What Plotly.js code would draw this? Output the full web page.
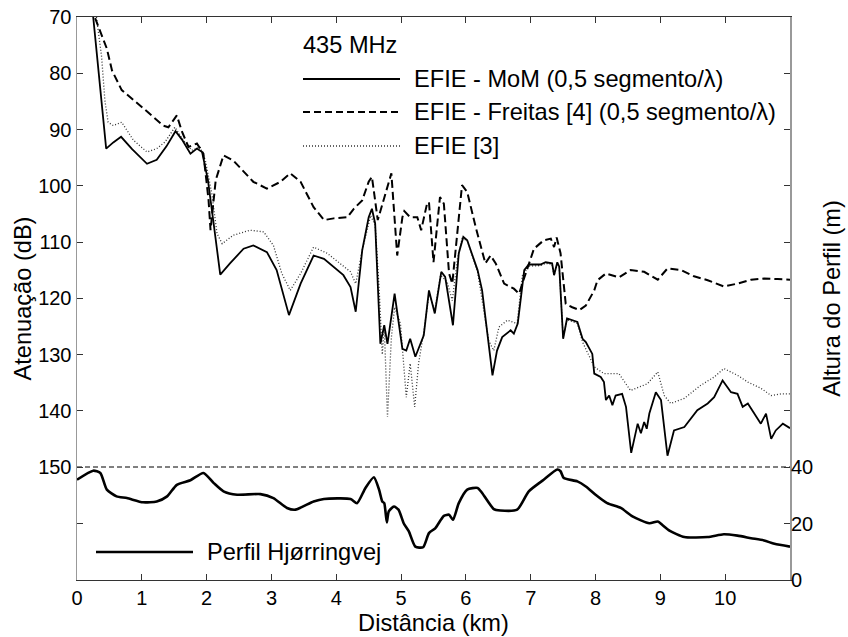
<!DOCTYPE html>
<html>
<head>
<meta charset="utf-8">
<script src="https://cdn.plot.ly/plotly-3.0.1.min.js"></script>
<style>html,body{margin:0;padding:0;background:#fff;}#chart{width:848px;height:637px;}</style>
</head>
<body>
<div id="chart"></div>
<script>
// ---- data (distance in km) ----
var momX = [0.25,0.45,0.56,0.68,0.85,1.08,1.23,1.38,1.52,1.62,1.75,1.85,1.93,2.02,2.10,2.21,2.36,2.57,2.72,2.93,3.08,3.18,3.27,3.45,3.65,3.81,4.04,4.11,4.22,4.30,4.40,4.50,4.55,4.60,4.68,4.74,4.79,4.90,5.02,5.08,5.14,5.22,5.35,5.43,5.52,5.62,5.68,5.80,5.89,5.96,6.02,6.18,6.25,6.41,6.48,6.56,6.69,6.74,6.80,6.90,6.97,7.15,7.23,7.33,7.36,7.41,7.44,7.50,7.56,7.72,7.80,7.85,7.95,7.98,8.08,8.13,8.16,8.21,8.26,8.31,8.41,8.47,8.55,8.65,8.70,8.75,8.79,8.83,8.93,9.01,9.11,9.21,9.37,9.57,9.73,9.83,9.96,10.04,10.09,10.19,10.27,10.35,10.45,10.55,10.63,10.71,10.78,10.89,11.0];
var momY = [70,93.4,92.3,91.3,93.5,96.1,95.4,93.0,90.3,91.8,94.3,93.4,94.0,99,106,115.8,113.8,111.2,110.6,111.8,115,119,123.0,117.4,112.4,113.0,115.3,115.9,118.0,122.4,111.5,105.6,104.1,106.7,128.1,124.8,128.1,119.2,129.0,129.3,127.2,130.4,126.6,118.6,122.7,115.3,116.2,124.8,112.0,109.1,109.7,115.0,118.6,133.7,129.3,126.9,125.7,126.3,124.5,115.0,114.0,114.0,113.6,113.8,115.9,113.6,114.4,127.2,123.6,124.2,127.2,127.8,129.9,133.4,134.0,134.9,138.1,137.3,139.0,137.3,137.0,139.3,147.5,142.3,144.0,142.0,143.2,140.5,136.7,138.1,148.0,143.5,142.9,139.9,138.7,137.6,134.6,135.8,136.7,137.0,139.3,138.7,140.5,142.3,140.5,145.0,143.5,142.3,143.1];

var freitasX = [0.28,0.46,0.54,0.69,1.03,1.33,1.41,1.54,1.62,1.72,1.85,1.95,2.03,2.06,2.14,2.26,2.41,2.72,2.93,3.14,3.29,3.45,3.65,3.81,3.96,4.17,4.27,4.40,4.50,4.55,4.64,4.73,4.85,4.94,5.02,5.05,5.14,5.25,5.31,5.40,5.43,5.50,5.60,5.66,5.74,5.79,5.87,5.94,6.02,6.15,6.30,6.38,6.46,6.59,6.74,6.82,6.87,7.05,7.20,7.31,7.36,7.40,7.46,7.54,7.64,7.75,7.85,7.98,8.03,8.16,8.36,8.54,8.75,8.96,9.11,9.32,9.52,9.73,9.98,10.19,10.40,10.60,10.81,11.0];
var freitasY = [70.2,75.6,79.5,83.0,86.3,89.3,89.6,87.5,90.4,93.1,92.5,94.3,102.6,107.9,99.0,94.6,95.5,99.3,100.5,99.3,97.8,99.3,103.8,106.1,105.8,105.6,104.1,102.6,99.3,98.4,106.1,102.6,97.8,112.4,105.6,104.5,105.6,105.6,107.9,103.2,102.9,113.6,102.0,103.2,115.6,117.4,107.3,99.9,101.1,107.3,113.8,112.4,113.8,117.4,118.3,119.2,117.4,111.2,109.7,109.4,110.9,109.2,112.0,121.0,121.6,122.1,121.3,118.6,116.8,115.6,116.3,115.0,115.3,116.7,114.7,115.0,116.1,116.8,117.9,117.4,116.7,116.5,116.6,116.7];

var efie3X = [0.30,0.38,0.43,0.48,0.56,0.69,0.87,1.08,1.23,1.36,1.51,1.64,1.77,1.90,1.98,2.08,2.16,2.24,2.41,2.67,2.88,3.03,3.16,3.29,3.45,3.65,3.86,4.06,4.22,4.30,4.40,4.53,4.60,4.66,4.71,4.74,4.79,4.85,4.90,4.99,5.05,5.08,5.14,5.21,5.27,5.35,5.43,5.52,5.61,5.71,5.79,5.87,5.94,6.02,6.18,6.35,6.43,6.51,6.64,6.79,6.87,6.97,7.15,7.23,7.33,7.36,7.41,7.44,7.50,7.56,7.72,7.80,7.98,8.13,8.36,8.54,8.80,8.96,9.06,9.16,9.37,9.62,9.83,9.98,10.19,10.35,10.55,10.71,10.86,11.0];
var efie3Y = [70,77.1,84.8,88.7,89.3,88.7,91.9,94.0,93.4,92.2,89.6,91.9,93.7,93.1,95.5,101.4,108.5,110.3,108.8,107.9,108.2,110.6,115.6,118.6,115.6,110.9,112.0,113.8,115.3,117.4,111.5,105.3,107.0,118.0,130.0,125.0,141.1,127.0,121.6,124.5,133.0,137.6,131.6,139.3,131.6,126.0,119.2,122.1,115.9,117.1,120.4,113.0,109.4,109.7,115.3,127.5,129.3,125.1,123.9,124.5,116.0,114.3,114.2,113.8,114.0,115.9,113.8,114.6,127.0,123.8,124.5,127.8,132.2,133.4,133.4,136.4,135.2,133.1,137.3,138.7,137.8,135.5,134.0,132.5,133.7,134.9,136.0,137.3,137.0,137.0];

var perfilX = [0,0.25,0.36,0.46,0.61,0.77,1.02,1.23,1.39,1.54,1.75,1.95,2.11,2.26,2.47,2.83,3.03,3.24,3.37,3.65,3.81,4.22,4.32,4.45,4.58,4.66,4.71,4.74,4.78,4.81,4.89,4.96,5.04,5.12,5.22,5.34,5.43,5.53,5.66,5.74,5.80,5.89,6.02,6.18,6.25,6.43,6.53,6.79,6.97,7.20,7.41,7.46,7.51,7.72,7.85,8.00,8.18,8.39,8.57,8.83,8.96,9.03,9.14,9.37,9.73,9.98,10.19,10.40,10.60,10.76,11.0];
var perfilY = [35.5,38.7,37.9,32.0,29.6,29.0,27.5,27.8,29.6,33.7,35.3,37.9,34.3,31.4,30.2,30.4,29.0,25.5,24.9,27.8,28.7,28.7,27.2,32.6,36.4,32.0,27.8,27.2,20.4,24.3,26.0,24.9,20.1,17.2,11.8,11.6,16.6,18.4,22.7,23.1,21.3,27.2,32.0,32.6,30.8,25.1,24.6,24.9,31.4,35.5,39.1,38.5,36.1,34.9,33.1,30.2,27.2,25.5,22.5,20.1,20.7,19.5,17.5,15.2,15.2,16.2,15.7,14.8,14.0,12.8,11.8];

var refLineX = [0, 11];
var refLineY = [150, 150];

var xTicks = [0,1,2,3,4,5,6,7,8,9,10];
var yTicks = [70,80,90,100,110,120,130,140,150,160];
var yTickText = ['70','80','90','100','110','120','130','140','150',''];
var y2Ticks = [0,20,40];

var seriesNames = ['EFIE - MoM (0,5 segmento/λ)', 'EFIE - Freitas [4] (0,5 segmento/λ)', 'EFIE [3]', 'Perfil Hjørringvej'];
var freqLabel = '435 MHz';

// ---- chart ----
var FONT = 'Liberation Sans, Arial, Helvetica, sans-serif';
var TXT = 23.6;

var traces = [
  {x: refLineX, y: refLineY, mode: 'lines', line: {color: '#000', width: 1, dash: '5px,3px'}, hoverinfo: 'skip', showlegend: false},
  {x: efie3X, y: efie3Y, mode: 'lines', name: seriesNames[2], line: {color: '#333', width: 1.3, dash: '1px,2px'}},
  {x: freitasX, y: freitasY, mode: 'lines', name: seriesNames[1], line: {color: '#000', width: 2, dash: '8px,4px'}},
  {x: momX, y: momY, mode: 'lines', name: seriesNames[0], line: {color: '#000', width: 1.8}},
  {x: perfilX, y: perfilY, yaxis: 'y2', mode: 'lines', name: seriesNames[3], line: {color: '#000', width: 2.6, shape: 'spline', smoothing: 0.6}}
];

function px2paperX(p){ return (p - 77) / 713; }
function px2paperY(p){ return (580 - p) / 563; }

var legendLines = [
  {y: 79, dash: 'solid', w: 1.8, c: '#000'},
  {y: 112, dash: '7px,4px', w: 1.8, c: '#000'},
  {y: 146, dash: '1px,2px', w: 1.3, c: '#333'}
];
var shapes = legendLines.map(function(l){
  return {type: 'line', xref: 'paper', yref: 'paper', x0: px2paperX(303), x1: px2paperX(400), y0: px2paperY(l.y), y1: px2paperY(l.y), line: {color: l.c, width: l.w, dash: l.dash}};
});
shapes.push({type: 'line', xref: 'paper', yref: 'paper', x0: px2paperX(96), x1: px2paperX(193), y0: px2paperY(552), y1: px2paperY(552), line: {color: '#000', width: 2.6}});

var annFont = {family: FONT, size: TXT, color: '#000'};
var annotations = [
  {xref: 'paper', yref: 'paper', x: px2paperX(301), y: px2paperY(45), xanchor: 'left', yanchor: 'middle', text: freqLabel, showarrow: false, font: annFont},
  {xref: 'paper', yref: 'paper', x: px2paperX(412), y: px2paperY(79), xanchor: 'left', yanchor: 'middle', text: seriesNames[0], showarrow: false, font: annFont},
  {xref: 'paper', yref: 'paper', x: px2paperX(412), y: px2paperY(112), xanchor: 'left', yanchor: 'middle', text: seriesNames[1], showarrow: false, font: annFont},
  {xref: 'paper', yref: 'paper', x: px2paperX(412), y: px2paperY(146), xanchor: 'left', yanchor: 'middle', text: seriesNames[2], showarrow: false, font: annFont},
  {xref: 'paper', yref: 'paper', x: px2paperX(205), y: px2paperY(552), xanchor: 'left', yanchor: 'middle', text: seriesNames[3], showarrow: false, font: annFont}
];

var layout = {
  width: 848, height: 637,
  margin: {l: 77, r: 58, t: 17, b: 57, pad: 0},
  paper_bgcolor: '#fff', plot_bgcolor: '#fff',
  font: {family: FONT, size: 20, color: '#000'},
  showlegend: false,
  xaxis: {
    range: [0, 11], tickvals: xTicks, ticks: 'inside', ticklen: 6, tickcolor: '#333', tickwidth: 1,
    showline: true, linecolor: '#333', linewidth: 1, mirror: 'ticks', showgrid: false, zeroline: false,
    tickfont: {family: FONT, size: 20, color: '#000'},
    title: {text: 'Distância (km)', font: {family: FONT, size: TXT, color: '#000'}, standoff: 6}
  },
  yaxis: {
    range: [170.09, 70], tickvals: yTicks, ticktext: yTickText, ticks: 'inside', ticklen: 6, tickcolor: '#333', tickwidth: 1,
    showline: true, linecolor: '#999', linewidth: 1.5, mirror: 'ticks', showgrid: false, zeroline: false,
    tickfont: {family: FONT, size: 20, color: '#000'},
    title: {text: 'Atenuação (dB)', font: {family: FONT, size: TXT, color: '#000'}, standoff: 0}
  },
  yaxis2: {
    overlaying: 'y', side: 'right', range: [0, 199.3], tickvals: y2Ticks, ticks: 'inside', ticklen: 6, tickcolor: '#333',
    showline: false, showgrid: false, zeroline: false,
    tickfont: {family: FONT, size: 20, color: '#000'},
    title: {text: 'Altura do Perfil (m)', font: {family: FONT, size: TXT, color: '#000'}, standoff: 11}
  },
  shapes: shapes,
  annotations: annotations
};

Plotly.newPlot('chart', traces, layout, {staticPlot: true, displayModeBar: false});
</script>
</body>
</html>
